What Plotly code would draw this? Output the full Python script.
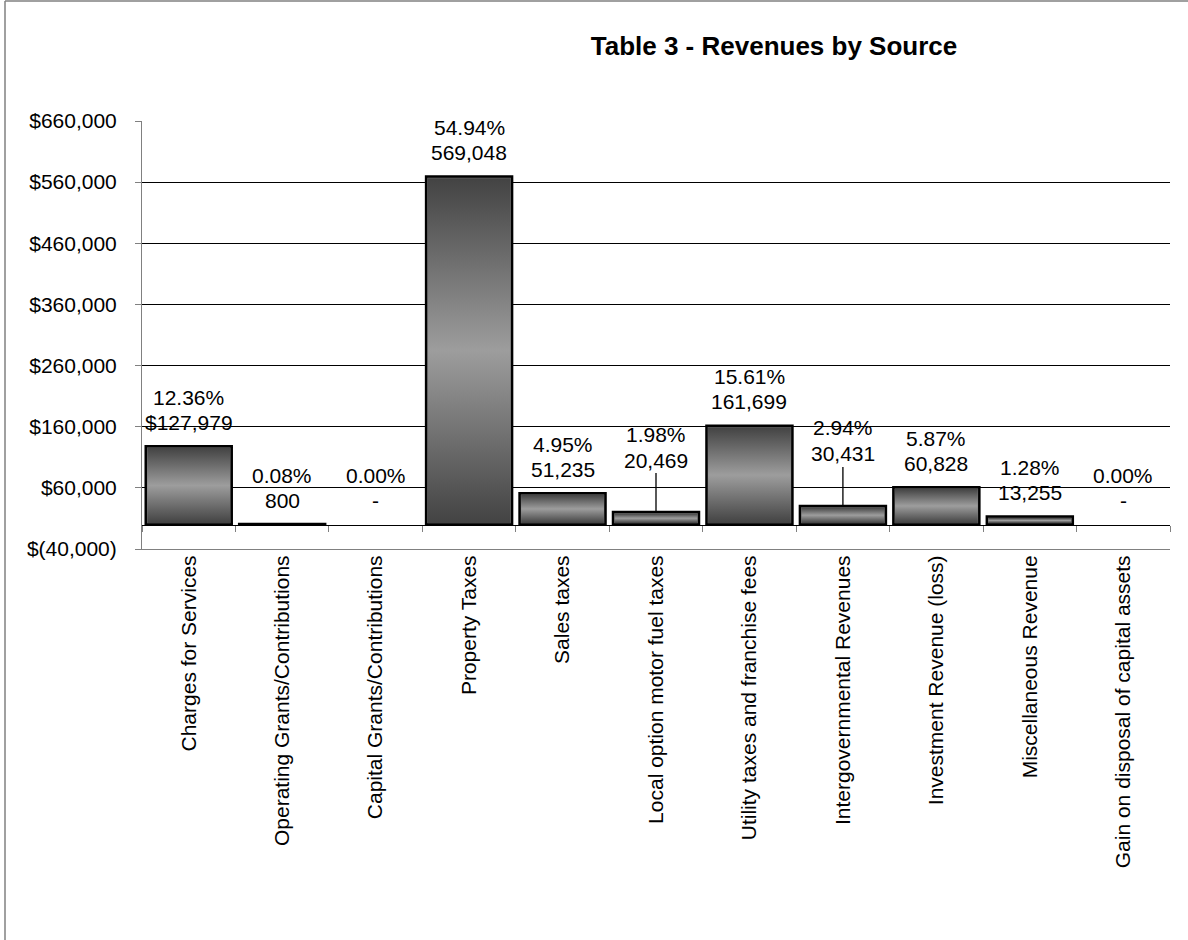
import plotly.graph_objects as go

# ---------------- data ----------------
categories = [
    "Charges for Services",
    "Operating Grants/Contributions",
    "Capital Grants/Contributions",
    "Property Taxes",
    "Sales taxes",
    "Local option motor fuel taxes",
    "Utility taxes and franchise fees",
    "Intergovernmental Revenues",
    "Investment Revenue (loss)",
    "Miscellaneous Revenue",
    "Gain on disposal of capital assets",
]
revenues = [127979, 800, 0, 569048, 51235, 20469, 161699, 30431, 60828, 13255, 0]
leader_line = [False, False, False, False, False, True, False, True, False, False, False]
y_tick_values = [-40000, 60000, 160000, 260000, 360000, 460000, 560000, 660000]
title_text = "Table 3 - Revenues by Source"

# ---------------- derived ----------------
total = sum(revenues)
pct_text = [f"{v / total * 100:.2f}%" for v in revenues]
amount_text = []
for i, v in enumerate(revenues):
    if v == 0:
        amount_text.append("-")
    elif i == 0:
        amount_text.append(f"${v:,}")
    else:
        amount_text.append(f"{v:,}")
y_tick_text = [f"${v:,}" if v >= 0 else f"$({-v:,})" for v in y_tick_values]

idx = list(range(len(categories)))
Y_MIN, Y_MAX = y_tick_values[0], y_tick_values[-1]
BAR_W = 0.92
FONT = "Arial, Liberation Sans, sans-serif"

W, H = 1188, 940
ML, MR, MT, MB = 142, 18, 121, 391
plot_w = W - ML - MR
plot_h = H - MT - MB

fig = go.Figure()

# main bars (no outline for zero-value bars)
fig.add_trace(go.Bar(
    x=idx, y=revenues, width=BAR_W,
    marker=dict(color="#7a7a7a",
                line=dict(color="black", width=[2.5 if v != 0 else 0 for v in revenues])),
    hoverinfo="x+y", showlegend=False,
))

# gradient shading inside each bar (derived from data + bar width)
dx = 1.6 * (len(categories) / plot_w)
dy = 1.6 * ((Y_MAX - Y_MIN) / plot_h)
for i, v in zip(idx, revenues):
    if v - 2 * dy <= 0:
        continue
    x0, x1 = i - BAR_W / 2 + dx, i + BAR_W / 2 - dx
    y0, y1 = dy, v - dy
    fig.add_trace(go.Scatter(
        x=[x0, x1, x1, x0, x0], y=[y0, y0, y1, y1, y0],
        mode="lines", fill="toself", line=dict(width=0),
        fillgradient=dict(type="vertical",
                          colorscale=[[0, "#434343"], [0.5, "#9d9d9d"], [1, "#434343"]]),
        hoverinfo="skip", showlegend=False,
    ))

# invisible trace for secondary (zero-line) x axis
fig.add_trace(go.Scatter(x=idx, y=[None] * len(idx), xaxis="x2", mode="markers",
                         hoverinfo="skip", showlegend=False))

# data labels: percentage line and amount line
label_font = dict(family=FONT, size=21, color="black")
for i, v in enumerate(revenues):
    if leader_line[i]:
        fig.add_annotation(x=i, y=v, text=amount_text[i], showarrow=True, arrowhead=0,
                           arrowwidth=1.3, arrowcolor="black", ax=0, ay=-52,
                           standoff=0, font=label_font)
        fig.add_annotation(x=i, y=v, text=pct_text[i], showarrow=False,
                           yanchor="middle", yshift=78, font=label_font)
    else:
        fig.add_annotation(x=i, y=v, text=amount_text[i], showarrow=False,
                           yanchor="middle", yshift=24, font=label_font)
        fig.add_annotation(x=i, y=v, text=pct_text[i], showarrow=False,
                           yanchor="middle", yshift=49, font=label_font)

zero_pos = (0 - Y_MIN) / (Y_MAX - Y_MIN)

# outer chart-area border (left and top edges visible in the frame)
bx0 = (5 - ML) / plot_w
bx1 = (W + 20 - ML) / plot_w
by_top = (MT + plot_h - 1) / plot_h
by_bot = (MT + plot_h - (H + 20)) / plot_h
border = [
    dict(type="line", xref="paper", yref="paper", x0=bx0, x1=bx0, y0=by_bot, y1=by_top,
         line=dict(color="#808080", width=1.5), layer="below"),
    dict(type="line", xref="paper", yref="paper", x0=bx0, x1=bx1, y0=by_top, y1=by_top,
         line=dict(color="#808080", width=1.5), layer="below"),
]

fig.update_layout(
    width=W, height=H,
    margin=dict(l=ML, r=MR, t=MT, b=MB),
    paper_bgcolor="white", plot_bgcolor="white",
    font=dict(family=FONT, size=21, color="black"),
    title=dict(text=f"<b>{title_text}</b>", x=774 / W, xanchor="center",
               y=1 - 46 / H, yanchor="middle", font=dict(family=FONT, size=26, color="black")),
    bargap=0.08,
    xaxis=dict(
        range=[-0.5, len(categories) - 0.5],
        tickvals=idx, ticktext=categories, tickangle=-90,
        showgrid=False, zeroline=False,
        showline=True, linecolor="#808080", linewidth=1,
        ticks="", ticklabelstandoff=-3,
        tickfont=dict(family=FONT, size=21, color="black"),
    ),
    xaxis2=dict(
        overlaying="x", anchor="free", position=zero_pos,
        range=[-0.5, len(categories) - 0.5],
        tickvals=[i - 0.5 for i in range(len(categories) + 1)],
        showticklabels=False, ticks="outside", ticklen=6, tickcolor="#808080",
        showline=True, linecolor="black", linewidth=1,
        showgrid=False, zeroline=False,
    ),
    yaxis=dict(
        range=[Y_MIN, Y_MAX],
        tickvals=y_tick_values, ticktext=y_tick_text,
        showgrid=True, gridcolor="black", gridwidth=1,
        zeroline=False,
        showline=True, linecolor="#808080", linewidth=1,
        ticks="outside", ticklen=6, tickcolor="#808080",
        ticklabelstandoff=14,
        tickfont=dict(family=FONT, size=21, color="black"),
    ),
    shapes=border,
)

fig.write_html("out.html", config={"displayModeBar": False},
               post_script="document.body.style.margin='0';")
